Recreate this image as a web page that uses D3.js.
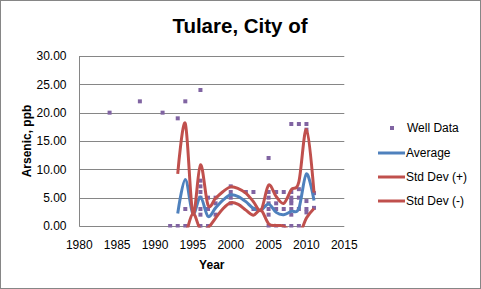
<!DOCTYPE html>
<html><head><meta charset="utf-8">
<script src="https://cdn.jsdelivr.net/npm/d3@7"></script>
<style>body{margin:0;background:#fff}svg text{font-family:"Liberation Sans",Arial,sans-serif}</style>
</head><body>
<svg id="c" width="481" height="289"></svg>
<script>
const title = "Tulare, City of";
const xTicks = [1980,1985,1990,1995,2000,2005,2010,2015];
const yTicks = [0,5,10,15,20,25,30];
const wellYears  = [1984,1988,1991,1992,1993,1993,1994,1994,1994,
  1996,1996,1996,1996,1996,1996,1996,1996,1997,1997,1997,1998,1998,1998,
  2000,2000,2000,2000,2002,2003,2003,
  2005,2005,2005,2005,2005,2005,2005,2006,2006,2006,2006,2007,2007,2007,
  2008,2008,2008,2008,2008,2008,2008,2008,2009,2009,2009,2009,2009,
  2010,2010,2010,2010,2010,2011,2011];
const wellValues = [20,22,20,0,19,0,22,3,0,
  24,8,7,6,5,3,2,0,5,3,0,5,4,2,
  7,6,5,4,6,6,3,
  12,6,5,4,3,2,0,6,4,3,0,6,3,0,
  18,6,5,4.5,4,3,2,0,18,6.5,5,3,0,
  18,17,4.4,3,2.4,5.8,3.2];
const statYears = [1993,1994,1995,1996,1997,1998,1999,2000,2001,2002,2003,2004,2005,2006,2007,2008,2009,2010,2011];
const average  = [2.2,8.2,2.2,5.1,1.7,3.2,4.6,5.5,5.2,4.3,3.1,2.8,3.9,2.4,2.0,2.6,3.1,9.2,4.5];
const stdPlus  = [9.2,18.1,2.2,10.8,3.7,4.9,6.1,6.9,6.6,5.8,4.3,2.8,7.2,5.2,4.0,6.4,7.8,17.0,5.9];
const stdMinus = [-4.6,-1.7,2.2,-0.6,-0.3,1.4,3.1,4.1,3.8,2.8,1.9,2.8,0.4,0.1,0.0,-1.2,-1.6,1.4,3.1];
const legendLabels = ["Well Data","Average","Std Dev (+)","Std Dev (-)"];
const colors = {well:"#8064A2", avg:"#4F81BD", sd:"#C0504D", grid:"#868686"};

const svg = d3.select("#c");
svg.append("rect").attr("x",0.5).attr("y",0.5).attr("width",480).attr("height",288)
  .attr("fill","#fff").attr("stroke",colors.grid);

const x = d3.scaleLinear().domain([1980,2015]).range([79.3,344.3]);
const y = d3.scaleLinear().domain([0,30]).range([226,56]);

svg.append("text").attr("x",240).attr("y",33).attr("text-anchor","middle")
  .attr("font-size","20.5px").attr("font-weight","bold").text(title);

svg.append("g").selectAll("line").data(yTicks).join("line")
  .attr("x1",x(1980)).attr("x2",x(2015))
  .attr("y1",d=>Math.round(y(d))+0.5).attr("y2",d=>Math.round(y(d))+0.5)
  .attr("stroke",colors.grid).attr("stroke-width",1);
svg.append("line").attr("x1",79.5).attr("x2",79.5).attr("y1",y(30)).attr("y2",y(0)+0.5)
  .attr("stroke",colors.grid);

svg.append("g").selectAll("text").data(yTicks).join("text")
  .attr("x",66.5).attr("y",d=>y(d)+4.2).attr("text-anchor","end")
  .attr("font-size","12px").text(d=>d.toFixed(2));
svg.append("g").selectAll("text").data(xTicks).join("text")
  .attr("x",d=>x(d)).attr("y",248.5).attr("text-anchor","middle")
  .attr("font-size","12px").text(d=>d);

svg.append("text").attr("x",211.8).attr("y",268.5).attr("text-anchor","middle")
  .attr("font-size","12px").attr("font-weight","bold").text("Year");
svg.append("text").attr("transform","translate(30.5,141) rotate(-90)").attr("text-anchor","middle")
  .attr("font-size","12px").attr("font-weight","bold").text("Arsenic, ppb");

svg.append("defs").append("clipPath").attr("id","pc").append("rect")
  .attr("x",x(1980)).attr("y",y(30)).attr("width",x(2015)-x(1980)).attr("height",y(0)-y(30)+1.5);

const plot = svg.append("g").attr("clip-path","url(#pc)");
plot.selectAll("rect.pt").data(wellYears.map((d,i)=>[d,wellValues[i]])).join("rect")
  .attr("class","pt").attr("x",d=>x(d[0])-2).attr("y",d=>y(d[1])-2)
  .attr("width",4).attr("height",4).attr("fill",colors.well);

const line = d3.line().x(d=>x(d[0])).y(d=>y(d[1])).curve(d3.curveCardinal.tension(0));
[[average,colors.avg],[stdPlus,colors.sd],[stdMinus,colors.sd]].forEach(([vals,c])=>{
  plot.append("path").attr("d",line(statYears.map((d,i)=>[d,vals[i]])))
    .attr("fill","none").attr("stroke",c).attr("stroke-width",3).attr("stroke-linejoin","round");
});

const lg = svg.append("g");
lg.append("rect").attr("x",390).attr("y",126).attr("width",4).attr("height",4).attr("fill",colors.well);
const ly = [128,153,177,201];
[[1,colors.avg],[2,colors.sd],[3,colors.sd]].forEach(([i,c])=>{
  lg.append("line").attr("x1",378).attr("x2",405).attr("y1",ly[i]).attr("y2",ly[i])
    .attr("stroke",c).attr("stroke-width",3);
});
lg.selectAll("text").data(legendLabels).join("text")
  .attr("x",(d,i)=>i===0?407:406).attr("y",(d,i)=>ly[i]+4.2).attr("font-size","12px").text(d=>d);
</script>
</body></html>
